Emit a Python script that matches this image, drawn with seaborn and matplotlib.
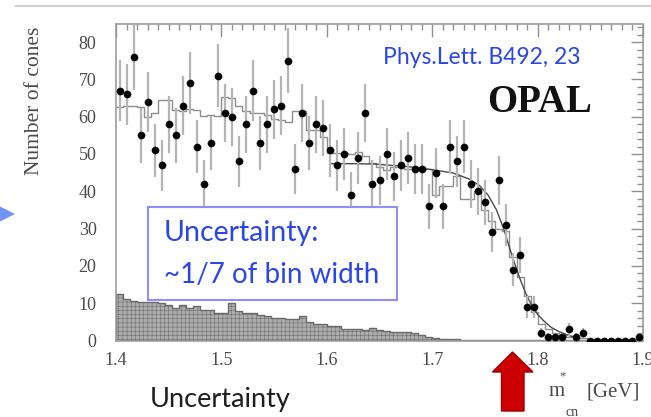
import numpy as np
import pandas as pd
import seaborn as sns
import matplotlib.pyplot as plt
from matplotlib.patches import Polygon, Rectangle
from matplotlib.lines import Line2D
from matplotlib.ticker import MultipleLocator

# ---- binning: 75 bins between 1.4 and 1.9 GeV ----
mass_lo, mass_hi, n_bins = 1.4, 1.9, 75

# observed cones per bin
data_counts = [
    67, 66, 76, 55, 64, 51, 47, 58, 55, 63, 69, 52, 42, 53, 71, 61, 60, 48,
    58, 67, 53, 58, 62, 63, 75, 46, 61, 53, 58, 57, 51, 47, 50, 39, 49, 61,
    42, 43, 50, 44, 47, 49, 46, 46, 36, 45, 36, 52, 48, 52, 42, 40, 37, 29,
    43, 31, 19, 23, 9, 9, 2, 1, 1, 1, 3, 1, 2, 0, 0, 0, 0, 0, 0, 0, 1,
]

# simulated expectation (step histogram)
mc_counts = [
    62.5, 62.8, 63.0, 62.5, 60.0, 61.0, 64.5, 64.5, 61.8, 61.4, 62.0, 61.8,
    60.1, 60.5, 60.1, 65.4, 65.0, 63.0, 61.5, 61.0, 61.0, 60.5, 59.5, 59.0,
    58.5, 61.5, 61.5, 56.4, 56.4, 54.6, 50.2, 50.2, 50.2, 50.0, 50.5, 49.5,
    47.5, 46.5, 45.7, 46.5, 46.5, 46.0, 46.0, 46.5, 46.0, 39.0, 41.5, 41.5,
    44.0, 38.0, 38.0, 40.0, 35.0, 32.0, 30.0, 29.4, 22.5, 17.1, 11.8, 7.7,
    4.5, 3.0, 2.0, 1.5, 1.0, 0.8, 0.6, 0.5, 0.4, 0.4, 0.3, 0.3, 0.3, 0.2, 0.2,
]

# background contribution (shaded)
bkg_counts = [
    12.5, 11.0, 10.5, 10.4, 10.2, 10.2, 10.0, 9.5, 8.6, 9.5, 8.6, 9.2, 8.3,
    8.3, 7.5, 7.5, 10.0, 8.0, 7.5, 7.3, 6.8, 6.5, 5.9, 5.9, 5.7, 5.7, 6.6,
    5.0, 4.4, 4.4, 3.9, 3.9, 3.1, 3.0, 3.0, 2.9, 3.3, 2.8, 2.6, 2.4, 2.4,
    2.2, 2.0, 1.5, 1.0, 0.6, 0.3, 0.3, 0.3, 0.2, 0.2, 0.2, 0.2, 0.2, 0.2,
    0.2, 0.2, 0.2, 0.2, 0.2, 0.2, 0.2, 0.2, 0.2, 0.2, 0.2, 0.2, 0.2, 0.2,
    0.2, 0.2, 0.2, 0.2, 0.2, 0.2,
]

# fitted end-point curve
fit_mass = [1.603, 1.625, 1.646, 1.677, 1.700, 1.720, 1.735, 1.745, 1.753,
            1.761, 1.768, 1.774, 1.779, 1.784, 1.789, 1.794, 1.800, 1.806,
            1.813, 1.821, 1.830, 1.840]
fit_counts = [47.4, 47.4, 47.3, 46.6, 45.8, 44.9, 43.3, 41.5, 39.0, 35.0,
              29.8, 24.3, 20.0, 16.0, 12.5, 9.6, 7.0, 5.2, 3.5, 2.3, 1.3, 0.6]

x_ticks = [1.4, 1.5, 1.6, 1.7, 1.8, 1.9]
x_tick_labels = ["1.4", "1.5", "1.6", "1.7", "1.8", "1.9"]
y_ticks = [0, 10, 20, 30, 40, 50, 60, 70, 80]
y_tick_labels = ["0", "10", "20", "30", "40", "50", "60", "70", "80"]

edges = np.linspace(mass_lo, mass_hi, n_bins + 1)
centers = 0.5 * (edges[:-1] + edges[1:])
hist_df = pd.DataFrame({"mass": centers, "data": data_counts,
                        "mc": mc_counts, "bkg": bkg_counts})
hist_df["err"] = np.sqrt(hist_df["data"])

sns.set_theme(style="white")
plt.rcParams["font.family"] = ["Liberation Serif", "DejaVu Serif"]
plt.rcParams["hatch.color"] = "#878787"
plt.rcParams["hatch.linewidth"] = 0.35

W, H = 651, 417
fig = plt.figure(figsize=(W / 100, H / 100), dpi=100)
fig.patch.set_facecolor("white")


def fx(px):
    return px / W


def fy(py):
    return 1 - py / H


ax_left, ax_right, ax_top, ax_bottom = 116, 643, 24, 340.5
ax = fig.add_axes([fx(ax_left), fy(ax_bottom), (ax_right - ax_left) / W,
                   (ax_bottom - ax_top) / H])

hist_kw = dict(x="mass", bins=n_bins, binrange=(mass_lo, mass_hi),
               element="step", ax=ax)

# background (finely meshed fill)
sns.histplot(data=hist_df, weights="bkg", fill=True, color="#acacac",
             alpha=1.0, hatch="++++", edgecolor="#6a6a6a", linewidth=1.0,
             zorder=1, **hist_kw)

# simulated expectation
sns.histplot(data=hist_df, weights="mc", fill=False, color="#8e8e8e",
             linewidth=1.0, zorder=2, **hist_kw)

# fit curve
sns.lineplot(x=fit_mass, y=fit_counts, color="#4a4a4a", linewidth=1.0,
             sort=False, ax=ax, zorder=3)

# data with Poisson errors
ax.errorbar(hist_df["mass"], hist_df["data"], yerr=hist_df["err"],
            fmt="none", ecolor="#b5b5b5", elinewidth=1.6, capsize=0,
            zorder=4)
sns.scatterplot(data=hist_df, x="mass", y="data", color="black", s=27,
                edgecolor="black", linewidth=0.3, ax=ax, zorder=5)

ax.set_xlim(mass_lo, mass_hi)
ax.set_ylim(0, (ax_bottom - ax_top) / 3.73)
ax.set_xlabel("")
ax.set_ylabel("")
ax.set_xticks(x_ticks)
ax.set_xticklabels(x_tick_labels)
ax.set_yticks(y_ticks)
ax.set_yticklabels(y_tick_labels)
ax.xaxis.set_minor_locator(MultipleLocator(0.01))
ax.yaxis.set_minor_locator(MultipleLocator(2))
ax.tick_params(which="both", direction="in", top=True, right=True,
               color="#8f8f8f", width=1.0)
ax.tick_params(which="major", length=9, labelsize=13, labelcolor="#4a4a4a")
ax.tick_params(which="minor", length=4.5)
ax.tick_params(axis="x", which="major", pad=8)
ax.tick_params(axis="y", which="major", pad=14)
for sp in ax.spines.values():
    sp.set_color("#9c9c9c")
    sp.set_linewidth(1.2)

# axis titles
fig.text(fx(35), fy(101), "Number of cones", rotation=90, ha="center",
         va="center", fontsize=15.5, color="#4a4a4a")
fig.text(fx(557), fy(392), "m", ha="center", va="center", fontsize=15,
         color="#4a4a4a")
fig.text(fx(563), fy(376), "*", ha="center", va="center", fontsize=9,
         color="#4a4a4a")
fig.text(fx(572), fy(412), "cn", ha="center", va="center", fontsize=10,
         color="#4a4a4a")
fig.text(fx(586), fy(392), "[GeV]", ha="left", va="center", fontsize=15,
         color="#4a4a4a")

# labels inside the frame
blue = "#2a46e4"
fig.text(fx(383), fy(57), "Phys.Lett. B492, 23", ha="left", va="center",
         fontsize=16.5, color=blue, family=["Lato", "DejaVu Sans"])
fig.text(fx(540), fy(103), "OPAL", ha="center", va="center", fontsize=28,
         weight="bold", color="#111111", family=["Liberation Serif"])

# note box
fig.add_artist(Rectangle((fx(148), fy(299.5)), (396.5 - 148) / W,
                         (299.5 - 206.5) / H, transform=fig.transFigure,
                         facecolor="white", edgecolor="#8e8ef6", linewidth=1.5,
                         zorder=10))
fig.text(fx(164), fy(233), "Uncertainty:", ha="left", va="center",
         fontsize=20.5, color=blue, family=["Lato", "DejaVu Sans"], zorder=11)
fig.text(fx(164), fy(275), "~1/7 of bin width", ha="left", va="center",
         fontsize=20, color=blue, family=["Lato", "DejaVu Sans"], zorder=11)

# slide decorations
fig.text(fx(150), fy(400), "Uncertainty", ha="left", va="center",
         fontsize=19.5, color="#1e1e1e", family=["Lato", "DejaVu Sans"])
fig.add_artist(Line2D([fx(15), 1.0], [fy(6), fy(6)], color="#c6c6c6",
                      linewidth=1.2, transform=fig.transFigure))
fig.text(fx(275), fy(-12), "y", ha="center", va="baseline", fontsize=20,
         color=blue, family=["Lato", "DejaVu Sans"])
fig.add_artist(Polygon([(fx(0), fy(206.5)), (fx(15), fy(214)),
                        (fx(0), fy(221.5))], closed=True,
                       transform=fig.transFigure, facecolor="#7292f4",
                       edgecolor="none"))
arrow = [(512.5, 352), (533, 372), (524, 372), (524, 411), (501.5, 411),
         (501.5, 372), (492.5, 372)]
fig.add_artist(Polygon([(fx(px), fy(py)) for px, py in arrow], closed=True,
                       transform=fig.transFigure, facecolor="#cc0000",
                       edgecolor="#9e0000", linewidth=1.0))

fig.savefig("out.png", dpi=100)
